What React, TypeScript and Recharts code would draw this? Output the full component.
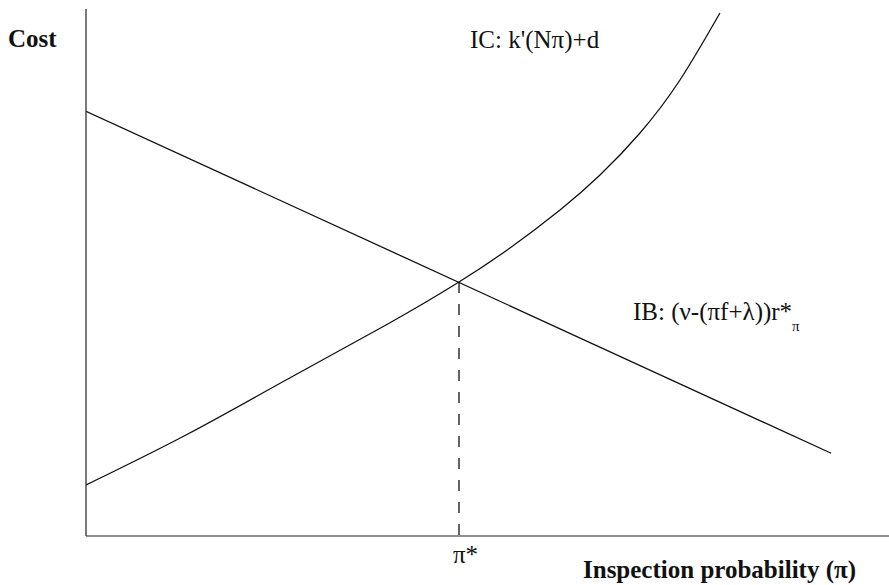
import { LineChart, Line, XAxis, YAxis, ReferenceLine } from "recharts";

// inspection probability (x) and cost values
const icPi = [0, 12.45, 24.91, 37.36, 46.45, 52.8, 59.03, 64.01, 68.99, 73.97, 78.95];
const icCost = [9.68, 19.17, 29.6, 40.04, 48.2, 54.65, 61.86, 68.5, 76.47, 86.53, 99.24];

const ibPi = [0, 92.8];
const ibCost = [80.6, 15.7];

const piStar = 46.45;
const costStar = 48.2;

const icData = icPi.map((x, i) => ({ x, y: icCost[i] }));
const ibData = ibPi.map((x, i) => ({ x, y: ibCost[i] }));

const font = "'Liberation Serif', serif";

export default function App() {
  return (
    <div style={{ position: "absolute", left: 0, top: 0, width: 889, height: 585, overflow: "hidden", background: "#fff" }}>
      <LineChart width={889} height={585} margin={{ top: 9, right: 0, bottom: 49, left: 86 }}>
        <XAxis type="number" dataKey="x" domain={[0, 100]} allowDataOverflow hide />
        <YAxis type="number" dataKey="y" domain={[0, 100]} allowDataOverflow hide />
        {/* axes */}
        <ReferenceLine x={0} stroke="#222" strokeWidth={1.2} />
        <ReferenceLine y={0} stroke="#222" strokeWidth={1.2} />
        <ReferenceLine
          segment={[
            { x: piStar, y: costStar },
            { x: piStar, y: 0 }
          ]}
          stroke="#111"
          strokeWidth={1.3}
          strokeDasharray="11 11"
        />
        <Line
          data={ibData}
          dataKey="y"
          type="linear"
          stroke="#111"
          strokeWidth={1.3}
          dot={false}
          isAnimationActive={false}
        />
        <Line
          data={icData}
          dataKey="y"
          type="natural"
          stroke="#111"
          strokeWidth={1.3}
          dot={false}
          isAnimationActive={false}
        />
      </LineChart>

      <svg
        width={889}
        height={585}
        style={{ position: "absolute", left: 0, top: 0, pointerEvents: "none" }}
      >
        <g fontFamily={font} fill="#111" fontSize={25}>
          <text x={8} y={47} fontWeight="bold">Cost</text>
          <text x={470} y={48}>IC: k'(Nπ)+d</text>
          <text x={633} y={320}>
            IB: (ν-(πf+λ))r*
          </text>
          <text x={792} y={331} fontSize={15}>π</text>
          <text x={453} y={563}>π*</text>
          <text x={583} y={578} fontWeight="bold">Inspection probability (π)</text>
        </g>
      </svg>
    </div>
  );
}
